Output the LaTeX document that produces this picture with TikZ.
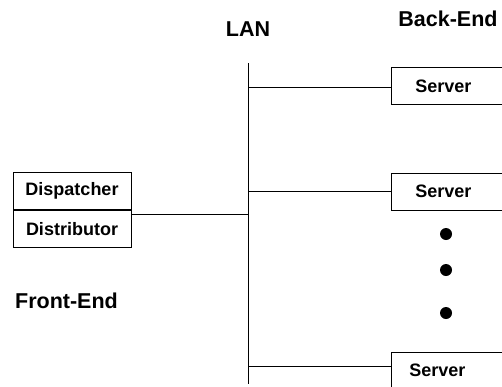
\documentclass[tikz,border=0pt]{standalone}
\usepackage{fontspec}
\setmainfont{Liberation Sans}
\begin{document}
\begin{tikzpicture}[x=1pt,y=-1pt,
  box/.style={draw, line width=0.8pt, minimum height=37pt, inner sep=0pt, font=\fontsize{18}{21}\selectfont\bfseries},
  srv/.style={box, anchor=west, text width=100pt, inner xsep=24pt, align=left},
  title/.style={font=\fontsize{21.5}{25}\selectfont\bfseries},
  wire/.style={line width=0.8pt},
  dot/.style={circle, fill=black, minimum size=12pt, inner sep=0pt}]
\useasboundingbox (0,0) rectangle (502,386);
% titles
\node[title] (lan) at (248,29.5) {LAN};
\node[title] (be) at (448,19) {Back-End};
\node[title] (fe) at (66.5,301) {Front-End};
% front-end boxes
\node[box, minimum width=118pt] (disp) at (72,191) {Dispatcher};
\node[box, minimum width=118pt, anchor=north] (dist) at (disp.south) {Distributor};
% servers
\node[srv] (s1) at (391,86) {Server};
\node[srv] (s2) at (391,191.5) {Server};
\node[srv, inner xsep=18pt, text width=106pt] (s3) at (391,370.5) {Server};
% LAN bus
\coordinate (lt) at (248,63);
\coordinate (lb) at (248,384);
\coordinate (b1) at (248,87);
\coordinate (b2) at (248,191);
\coordinate (b3) at (248,366);
\coordinate (b0) at (248,214);
\draw[wire] (lt) -- (lb);
\draw[wire] (b1) -- (b1 -| s1.west);
\draw[wire] (b2) -- (b2 -| s2.west);
\draw[wire] (b3) -- (b3 -| s3.west);
\draw[wire] (b0 -| dist.east) -- (b0);
% dots
\node[dot] (d1) at (446,234) {};
\node[dot] (d2) at (446,270) {};
\node[dot] (d3) at (446,313) {};
\end{tikzpicture}
\end{document}
